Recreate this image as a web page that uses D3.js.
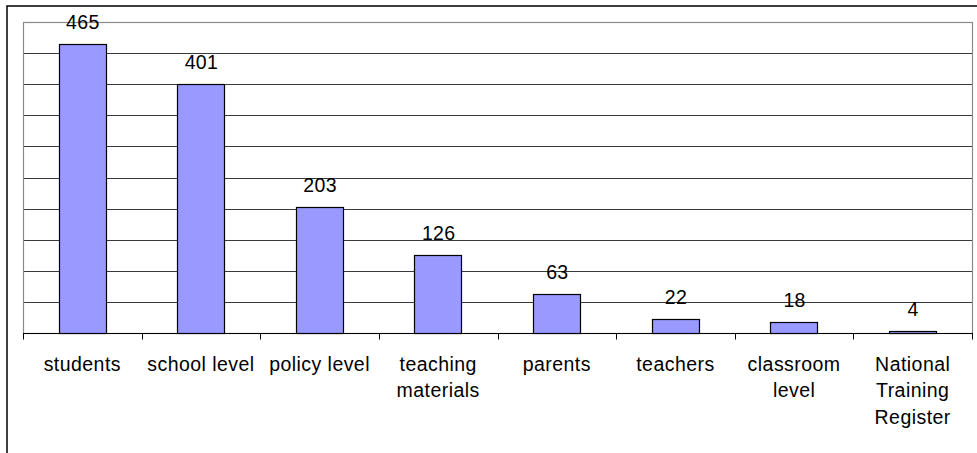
<!DOCTYPE html>
<html>
<head>
<meta charset="utf-8">
<script src="https://cdn.jsdelivr.net/npm/d3@7/dist/d3.min.js"></script>
<style>
  html, body { margin: 0; padding: 0; background: #fff; }
  svg { display: block; font-family: "Liberation Sans", Arial, sans-serif; }
</style>
</head>
<body>
<div id="chart"></div>
<script>
// Responses per category (line breaks mark where the axis label wraps)
const categories = [
  "students",
  "school level",
  "policy level",
  "teaching\nmaterials",
  "parents",
  "teachers",
  "classroom\nlevel",
  "National\nTraining\nRegister"
];
const values = [465, 401, 203, 126, 63, 22, 18, 4];
const yMax = 500;
const yStep = 50;

const W = 977, H = 453;
const plot = { left: 23, top: 22, right: 972, bottom: 333 };

const svg = d3.select("#chart").append("svg")
  .attr("width", W).attr("height", H);

// outer chart frame (runs off the right and bottom edges)
svg.append("rect")
  .attr("x", 7).attr("y", 6)
  .attr("width", W + 20).attr("height", H + 20)
  .attr("fill", "#fff").attr("stroke", "#000").attr("stroke-width", 1.5);

const x = d3.scaleBand()
  .domain(categories)
  .range([plot.left, plot.right])
  .paddingInner(0.6)
  .paddingOuter(0.3);

const xTickScale = d3.scaleBand()
  .domain(categories)
  .range([plot.left, plot.right])
  .padding(0);

const y = d3.scaleLinear().domain([0, yMax]).range([plot.bottom, plot.top]);

// horizontal gridlines
const gridVals = d3.range(yStep, yMax, yStep);
svg.append("g")
  .selectAll("line")
  .data(gridVals)
  .join("line")
  .attr("x1", plot.left).attr("x2", plot.right)
  .attr("y1", d => Math.round(y(d)) + 0.5)
  .attr("y2", d => Math.round(y(d)) + 0.5)
  .attr("stroke", "#3a3a3a").attr("stroke-width", 1);

// plot area border
svg.append("rect")
  .attr("x", plot.left + 0.5).attr("y", Math.round(y(yMax)) + 0.5)
  .attr("width", plot.right - plot.left)
  .attr("height", plot.bottom - Math.round(y(yMax)))
  .attr("fill", "none").attr("stroke", "#8a8a8a").attr("stroke-width", 1.2);

// bars
svg.append("g")
  .selectAll("rect")
  .data(values)
  .join("rect")
  .attr("x", (d, i) => Math.round(x(categories[i])) + 0.5)
  .attr("y", d => Math.round(y(d)) + 0.5)
  .attr("width", Math.round(x.bandwidth()))
  .attr("height", d => Math.max(0, Math.round(y(0)) - Math.round(y(d))))
  .attr("fill", "#9999ff")
  .attr("stroke", "#000").attr("stroke-width", 1.2);

// value labels
svg.append("g")
  .selectAll("text")
  .data(values)
  .join("text")
  .attr("x", (d, i) => x(categories[i]) + x.bandwidth() / 2 + 0.5)
  .attr("y", d => y(d) - 15)
  .attr("text-anchor", "middle")
  .attr("font-size", 19.5)
  .attr("letter-spacing", 0.3)
  .attr("fill", "#000")
  .text(d => d);

// category axis with boundary ticks
const axisY = Math.round(y(0)) + 0.5;
const xAxis = svg.append("g");
xAxis.append("line")
  .attr("x1", plot.left).attr("x2", plot.right + 1)
  .attr("y1", axisY).attr("y2", axisY)
  .attr("stroke", "#000").attr("stroke-width", 1);

const boundaries = categories.map(c => xTickScale(c)).concat([plot.right]);
xAxis.selectAll("line.tick")
  .data(boundaries)
  .join("line")
  .attr("class", "tick")
  .attr("x1", d => Math.round(d) + 0.5).attr("x2", d => Math.round(d) + 0.5)
  .attr("y1", axisY).attr("y2", axisY + 6)
  .attr("stroke", "#000").attr("stroke-width", 1);

const labels = xAxis.selectAll("text")
  .data(categories)
  .join("text")
  .attr("text-anchor", "middle")
  .attr("font-size", 19.5)
  .attr("letter-spacing", 0.45)
  .attr("fill", "#000")
  .attr("transform", d => `translate(${xTickScale(d) + xTickScale.bandwidth() / 2},370.5)`);

labels.selectAll("tspan")
  .data(d => d.split("\n"))
  .join("tspan")
  .attr("x", 0)
  .attr("y", (d, i) => i * 26.7)
  .text(d => d);
</script>
</body>
</html>
